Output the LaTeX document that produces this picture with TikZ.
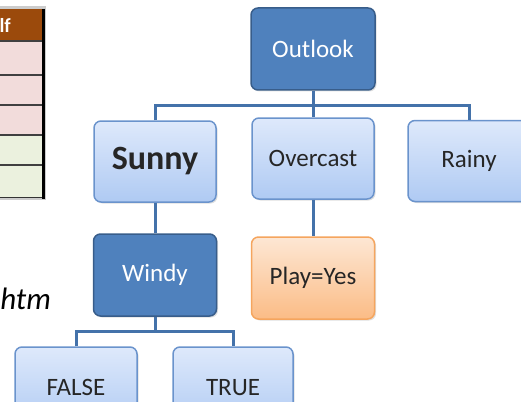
\documentclass[tikz,border=0pt]{standalone}
\usepackage{fontspec}
\setmainfont{Carlito}
\usetikzlibrary{shadows}
\definecolor{darkbox}{HTML}{4F81BD}
\definecolor{darkedge}{HTML}{385D8A}
\definecolor{lighttop}{HTML}{DEE9FB}
\definecolor{lightbot}{HTML}{AFCAF3}
\definecolor{lightedge}{HTML}{6A93CC}
\definecolor{orangetop}{HTML}{FDE7D4}
\definecolor{orangebot}{HTML}{FBBC86}
\definecolor{orangeedge}{HTML}{F5A55E}
\definecolor{conn}{HTML}{4472AA}
\definecolor{txt}{HTML}{262626}
\definecolor{hdr}{HTML}{9B4A0C}
\definecolor{pinkrow}{HTML}{F2DCDB}
\definecolor{greenrow}{HTML}{EBF1DE}
\tikzset{
  boxbase/.style={rounded corners=7pt, minimum width=122pt, minimum height=81pt,
    line width=1.5pt, inner sep=0pt,
    drop shadow={opacity=0.25, shadow xshift=1.5pt, shadow yshift=-1.5pt},
    font=\fontsize{25}{30}\selectfont},
  darknode/.style={boxbase, fill=darkbox, draw=darkedge, text=white},
  lightnode/.style={boxbase, top color=lighttop, bottom color=lightbot, draw=lightedge, text=txt},
  orangenode/.style={boxbase, top color=orangetop, bottom color=orangebot, draw=orangeedge, text=txt},
  connector/.style={draw=conn, line width=3pt},
}
\begin{document}
\begin{tikzpicture}[x=1pt, y=-1pt]
\useasboundingbox (0,0) rectangle (521,401);
\clip (0,0) rectangle (521,401);
% table fragment
\fill[gray!40] (-2,6) rectangle (46,200);
\fill[hdr] (-2,9) rectangle (42,40.5);
\fill[pinkrow] (-2,40.5) rectangle (42,135);
\fill[greenrow] (-2,135) rectangle (42,197.5);
\foreach \yy in {41,75,105,135,165}
  \draw[black!75, line width=2pt] (-2,\yy) -- (42,\yy);
\draw[black!80, line width=1pt] (-2,197.5) -- (42,197.5);
\draw[black, line width=3pt] (43.5,9) -- (43.5,199);
\node[anchor=east, text=white, font=\bfseries\fontsize{20}{24}\selectfont, inner sep=0pt] (hdrtext) at (11,25) {lf};
% cut-off italic text
\node[anchor=base east, text=black, font=\itshape\fontsize{31}{36}\selectfont, inner sep=0pt] (htm) at (51,309) {htm};
% tree nodes
\node[darknode, minimum width=124pt, minimum height=82pt] (outlook) at (313,49) {Outlook};
\node[lightnode] (sunny) at (155,161.5) {\fontsize{34}{40}\selectfont\bfseries Sunny};
\node[lightnode] (overcast) at (313,158.5) {Overcast};
\node[lightnode] (rainy) at (469,161) {Rainy};
\node[darknode, minimum width=123pt, minimum height=82pt] (windy) at (155,275) {Windy};
\node[orangenode, minimum width=123pt, minimum height=82pt] (play) at (313,278) {Play=Yes};
\node[lightnode] (false) at (76,387.5) {FALSE};
\node[lightnode, minimum width=120pt] (true) at (233,387.5) {TRUE};
% connectors
\coordinate (j1) at (313,105);
\coordinate (j2) at (155,331);
\begin{scope}[on background layer/.try]
\end{scope}
\draw[connector] (outlook.south) -- (overcast.north);
\draw[connector] (sunny.north) |- (j1) -| (rainy.north);
\draw[connector] (sunny.south) -- (windy.north);
\draw[connector] (overcast.south) -- (play.north);
\draw[connector] (windy.south) -- (j2);
\draw[connector] (false.north) |- (j2) -| (true.north);
\end{tikzpicture}
\end{document}
